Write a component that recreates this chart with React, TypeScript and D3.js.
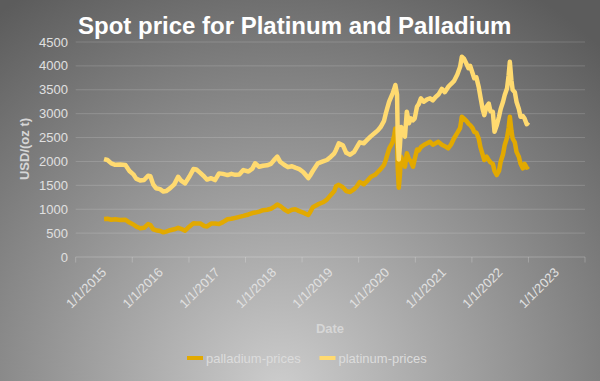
import React from 'react';
import * as d3 from 'd3';

const W = 600;
const H = 381;

const dates = [
  '2015-01-01','2015-01-23','2015-02-17','2015-03-14','2015-04-16','2015-05-19','2015-06-14','2015-07-09','2015-07-27','2015-08-22',
  '2015-09-16','2015-10-12','2015-10-27','2015-11-14','2015-12-02','2015-12-28','2016-01-19','2016-02-06','2016-03-03','2016-03-29',
  '2016-04-23','2016-05-12','2016-06-07','2016-07-06','2016-07-31','2016-08-19','2016-09-13','2016-10-09','2016-10-27','2016-11-22',
  '2016-12-17','2017-01-12','2017-02-06','2017-03-08','2017-04-02','2017-04-28','2017-05-23','2017-06-18','2017-07-21','2017-08-15',
  '2017-09-02','2017-09-28','2017-10-23','2017-11-18','2017-12-13','2018-01-08','2018-01-23','2018-02-10','2018-03-08','2018-04-02',
  '2018-04-28','2018-05-19','2018-06-14','2018-07-09','2018-07-27','2018-08-11','2018-08-22','2018-09-09','2018-10-12','2018-11-14',
  '2018-12-09','2019-01-04','2019-01-26','2019-02-06','2019-02-24','2019-03-22','2019-04-13','2019-05-08','2019-06-03','2019-06-21',
  '2019-07-09','2019-08-04','2019-08-29','2019-09-20','2019-10-16','2019-11-03','2019-11-21','2019-12-13','2019-12-24','2020-01-15',
  '2020-02-06','2020-02-17','2020-02-24','2020-03-06','2020-03-10','2020-03-17','2020-03-24','2020-04-01','2020-04-12','2020-04-26',
  '2020-05-08','2020-05-22','2020-06-03','2020-06-17','2020-06-28','2020-07-13','2020-07-24','2020-08-07','2020-08-26','2020-09-16',
  '2020-10-05','2020-10-23','2020-11-10','2020-11-28','2020-12-20','2021-01-08','2021-01-30','2021-02-17','2021-03-08','2021-03-30',
  '2021-04-17','2021-04-28','2021-05-12','2021-05-27','2021-06-10','2021-06-21','2021-07-06','2021-07-17','2021-07-31','2021-08-15',
  '2021-08-26','2021-09-09','2021-09-20','2021-10-05','2021-10-19','2021-10-30','2021-11-14','2021-11-25','2021-12-09','2021-12-24',
  '2022-01-04','2022-01-19','2022-01-30','2022-02-14','2022-02-24','2022-03-04','2022-03-14','2022-03-22','2022-04-05','2022-04-16',
  '2022-05-01','2022-05-12','2022-05-27','2022-06-07','2022-06-21','2022-07-02'
];

const palladiumPrices = [
  795, 800, 780, 790, 775, 780, 720, 680, 640, 600,
  610, 690, 670, 580, 560, 545, 517, 530, 560, 580,
  610, 590, 550, 640, 705, 700, 700, 650, 640, 700,
  700, 690, 730, 790, 800, 820, 840, 860, 890, 920,
  930, 950, 980, 990, 1010, 1060, 1100, 1070, 1000, 950,
  990, 1000, 960, 930, 900, 880, 930, 1040, 1100, 1145,
  1200, 1300, 1380, 1480, 1510, 1460, 1380, 1360, 1420, 1480,
  1570, 1520, 1600, 1680, 1720, 1780, 1840, 1930, 2030, 2270,
  2400, 2550, 2690, 2550, 1900, 1450, 1700, 2100, 2000, 1890,
  2170, 2050, 2000, 1890, 2050, 2250, 2230, 2300, 2345, 2380,
  2410, 2350, 2380, 2410, 2350, 2320, 2275, 2350, 2480, 2600,
  2700, 2935, 2900, 2850, 2790, 2760, 2700, 2620, 2600, 2480,
  2300, 2150, 2030, 2100, 2030, 1980, 1950, 1800, 1715, 1800,
  2000, 2150, 2345, 2500, 2700, 2935, 2650, 2480, 2400, 2200,
  2100, 1950, 1855, 1950, 1870, 1900
];

const platinumPrices = [
  1255, 1230, 1180, 1140, 1160, 1145, 1080, 1050, 1000, 1000,
  1000, 1010, 1020, 940, 880, 875, 853, 850, 880, 940,
  1070, 1010, 990, 1050, 1135, 1130, 1060, 1030, 980, 950,
  910, 1060, 1010, 925, 940, 900, 885, 960, 900, 930,
  1030, 940, 930, 930, 940, 990, 1000, 925, 930, 930,
  910, 870, 880, 850, 810, 770, 770, 760, 860, 855,
  830, 800, 790, 760, 870, 880, 800, 780, 780, 820,
  830, 860, 860, 850, 880, 870, 880, 920, 970, 980,
  1020, 970, 910, 850, 700, 590, 600, 620, 650, 630,
  870, 750, 900, 970, 850, 900, 970, 1020, 905, 920,
  910, 930, 970, 990, 1170, 1130, 1285, 1270, 1200, 1220,
  1280, 1255, 1250, 1200, 1160, 1240, 1150, 1120, 1160, 1080,
  1050, 950, 940, 1050, 1180, 1070, 1090, 820, 1035, 1135,
  1100, 1100, 1045, 1030, 1100, 1150, 1050, 1020, 1050, 1050,
  1000, 985, 1095, 950, 910, 920
];

const yTicks = [0, 500, 1000, 1500, 2000, 2500, 3000, 3500, 4000, 4500];
const xLabelYears = [2015, 2016, 2017, 2018, 2019, 2020, 2021, 2022, 2023];
const seriesNames = ['palladium-prices', 'platinum-prices'];
const seriesColors = ['#E2A900', '#FFDA70'];

const FONT = '"Liberation Sans", Arial, sans-serif';

export default function App() {
  const parse = d3.timeParse('%Y-%m-%d');
  const rows = dates.map((d, i) => ({
    date: parse(d) as Date,
    palladium: palladiumPrices[i],
    platinum: platinumPrices[i],
  }));
  const stacked = d3.stack<any>().keys(['palladium', 'platinum'])(rows);

  const x = d3.scaleTime()
    .domain([new Date(2014, 6, 2), new Date(2023, 6, 2)])
    .range([75.7, 585]);
  const y = d3.scaleLinear().domain([0, 4500]).range([257, 42]);

  const line = d3.line<any>()
    .x((d) => x(d.data.date))
    .y((d) => y(d[1]))
    .curve(d3.curveLinear);

  const tickMarks = d3.range(2014, 2024).map((yr) => new Date(yr, 6, 2));

  return (
    <svg width={W} height={H} style={{ position: 'absolute', left: 0, top: 0 }} fontFamily={FONT}>
      <defs>
        <radialGradient id="bg" gradientUnits="userSpaceOnUse" cx={280} cy={390} r={470}>
          <stop offset="0" stopColor="#cdcdcd" />
          <stop offset="1" stopColor="#5c5c5c" />
        </radialGradient>
      </defs>
      <rect x={0} y={0} width={W} height={H} fill="url(#bg)" />

      <text x={78} y={33.5} fontSize={24} fontWeight="bold" fill="#ffffff">
        Spot price for Platinum and Palladium
      </text>

      {yTicks.map((t) => (
        <g key={t}>
          {t > 0 && (
            <line x1={75.7} x2={585} y1={y(t)} y2={y(t)} stroke="rgba(255,255,255,0.16)" strokeWidth={1} />
          )}
          <text x={68} y={y(t)} textAnchor="end" dominantBaseline="central" fontSize={13} fill="#e0e0e0">
            {t}
          </text>
        </g>
      ))}

      <line x1={75.7} x2={585} y1={257} y2={257} stroke="rgba(255,255,255,0.22)" strokeWidth={1} />
      {tickMarks.map((d, i) => (
        <line key={i} x1={x(d)} x2={x(d)} y1={257} y2={262.5} stroke="rgba(255,255,255,0.22)" strokeWidth={1} />
      ))}

      {xLabelYears.map((yr) => {
        const px = x(new Date(yr, 0, 1));
        return (
          <text
            key={yr}
            transform={`translate(${px},${270}) rotate(-45)`}
            textAnchor="end"
            dominantBaseline="central"
            fontSize={13}
            fill="#e0e0e0"
          >
            {`1/1/${yr}`}
          </text>
        );
      })}

      <text x={330} y={328} textAnchor="middle" dominantBaseline="central" fontSize={13} fontWeight="bold" fill="#d6d6d6">
        Date
      </text>
      <text
        transform="translate(24,149) rotate(-90)"
        textAnchor="middle"
        dominantBaseline="central"
        fontSize={13}
        fontWeight="bold"
        fill="#d6d6d6"
      >
        USD/(oz t)
      </text>

      {stacked.map((s, i) => (
        <path
          key={s.key}
          d={line(s) || ''}
          fill="none"
          stroke={seriesColors[i]}
          strokeWidth={4.5}
          strokeLinejoin="round"
          strokeLinecap="butt"
        />
      ))}

      <g>
        <line x1={187} x2={203} y1={358} y2={358} stroke={seriesColors[0]} strokeWidth={4} />
        <text x={206} y={358} dominantBaseline="central" fontSize={13} fill="#dcdcdc">{seriesNames[0]}</text>
        <line x1={319.5} x2={335.5} y1={358} y2={358} stroke={seriesColors[1]} strokeWidth={4} />
        <text x={338.5} y={358} dominantBaseline="central" fontSize={13} fill="#dcdcdc">{seriesNames[1]}</text>
      </g>
    </svg>
  );
}
